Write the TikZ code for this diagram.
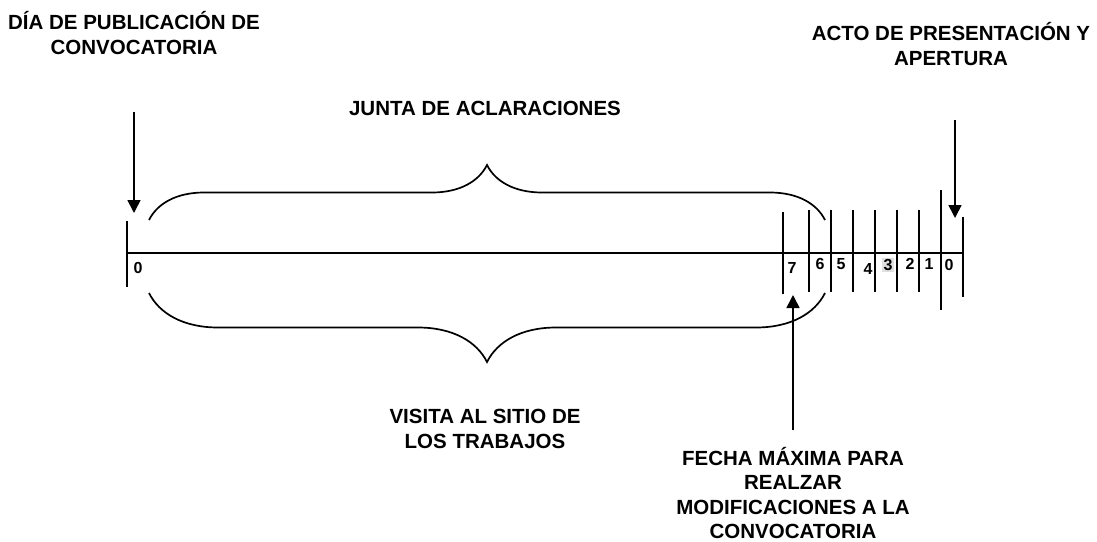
\documentclass[tikz,border=0pt]{standalone}
\usepackage{fontspec}
\setmainfont{Liberation Sans}
\usetikzlibrary{arrows.meta,decorations.pathreplacing}

\begin{document}
\begin{tikzpicture} [x=1pt, y=-1pt,
    every node/.style = {font=\bfseries\fontsize{20.5}{24.5}\selectfont, align=center, inner sep=0pt},
    num/.style = {font=\bfseries\fontsize{16}{16}\selectfont},
    tick/.style = {line width=1.7pt},
    arrow/.style = {line width=1.7pt, -{Triangle[length=13pt,width=13pt]}},
    brace/.style = {line width=1.7pt, decorate, decoration={brace, amplitude=#1}}]

            \useasboundingbox (0,0) rectangle (1097,541);

            % texts
            \node (pub)    at (134,  33) {\fontsize{20.5}{27}\selectfont D\'IA DE PUBLICACI\'ON DE\\CONVOCATORIA};
            \node (acto)   at (951,  44) {ACTO DE PRESENTACI\'ON Y\\APERTURA};
            \node (junta)  at (485, 108) {JUNTA DE ACLARACIONES};
            \node (visita) at (485, 429) {VISITA AL SITIO DE\\LOS TRABAJOS};
            \node (fecha)  at (793, 493) {FECHA M\'AXIMA PARA\\REALZAR\\MODIFICACIONES A LA\\CONVOCATORIA};

            % time line
            \draw[line width=1.6pt] (127,253) -- (963,253);
            \draw[tick] (127,221) -- (127,287);
            \draw[tick] (783,212) -- (783,294);
            \draw[tick] (809,210) -- (809,292);
            \draw[tick] (831,210) -- (831,292);
            \draw[tick] (853,210) -- (853,292);
            \draw[tick] (875,210) -- (875,292);
            \draw[tick] (897,210) -- (897,292);
            \draw[tick] (919,210) -- (919,292);
            \draw[tick] (941,190) -- (941,310);
            \draw[tick] (963,217) -- (963,297);

            % days
            \node[num] (d0)  at (138, 268) {0};
            \node[num] (d7)  at (792, 268) {7};
            \node[num] (d6)  at (820, 264) {6};
            \node[num] (d5)  at (841, 264) {5};
            \node[num] (d4)  at (868, 269) {4};
            \node[num, fill=black!12, inner sep=1.5pt] (d3) at (888, 265) {3};
            \node[num] (d2)  at (910, 264) {2};
            \node[num] (d1)  at (929, 264) {1};
            \node[num] (dz)  at (949, 265) {0};

            % braces
            \draw[brace=55pt] (149,220) -- (825,220);
            \draw[brace=69pt] (825,293) -- (149,293);

            % arrows
            \coordinate (pubA)   at (134, 112);
            \coordinate (pubB)   at (134, 213);
            \coordinate (actoA)  at (955, 120);
            \coordinate (actoB)  at (955, 218);
            \coordinate (fechaA) at (793, 430);
            \coordinate (fechaB) at (793, 295);

            \draw[arrow] (pubA) -- (pubB);
            \draw[arrow] (actoA) -- (actoB);
            \draw[arrow] (fechaA) -- (fechaB);
        \end{tikzpicture}
\end{document}
